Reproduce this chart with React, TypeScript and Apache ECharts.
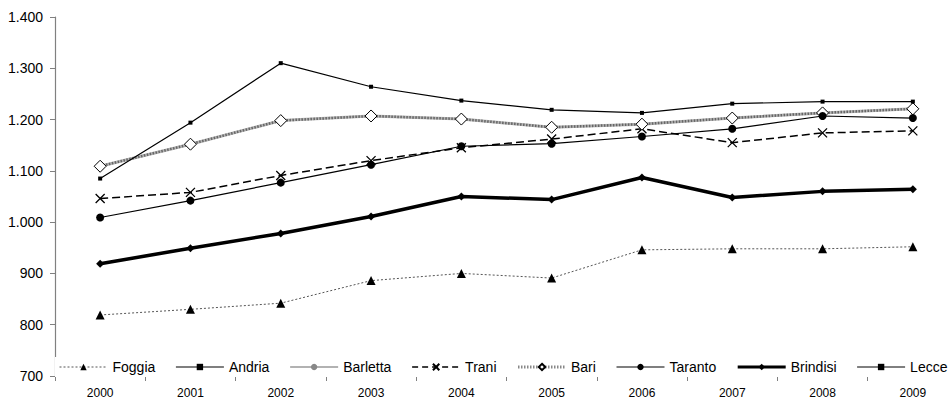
import React, { useEffect, useRef } from "react";
import * as echarts from "echarts";

// Years on the category axis
const years = ["2000", "2001", "2002", "2003", "2004", "2005", "2006", "2007", "2008", "2009"];

// Values per province
const foggia = [819, 830, 842, 886, 900, 891, 946, 948, 948, 952];
const andria = [1109, 1152, 1198, 1207, 1201, 1185, 1191, 1203, 1213, 1221];
const barletta = [1109, 1152, 1198, 1207, 1201, 1185, 1191, 1203, 1213, 1221];
const trani = [1046, 1058, 1091, 1120, 1145, 1162, 1182, 1155, 1174, 1178];
const bari = [1109, 1152, 1198, 1207, 1201, 1185, 1191, 1203, 1213, 1221];
const taranto = [1009, 1042, 1077, 1112, 1148, 1153, 1167, 1182, 1207, 1203];
const brindisi = [919, 949, 978, 1011, 1050, 1044, 1087, 1048, 1060, 1064];
const lecce = [1085, 1194, 1310, 1264, 1237, 1219, 1213, 1231, 1235, 1235];

// Y axis range
const yMin = 700;
const yMax = 1400;
const yStep = 100;

const FONT = "'Liberation Sans', Arial, sans-serif";
const CROSS = "path://M0,0L10,10M10,0L0,10";

function formatThousands(v: number): string {
  if (v < 1000) return String(v);
  const th = Math.floor(v / 1000);
  const rest = String(v % 1000).padStart(3, "0");
  return th + "." + rest;
}

export default function App() {
  const ref = useRef<HTMLDivElement>(null);

  useEffect(() => {
    if (!ref.current) return;
    const chart = echarts.init(ref.current, undefined, { renderer: "svg" });

    const option: any = {
      animation: false,
      backgroundColor: "#ffffff",
      // the plot runs slightly past the visible right edge
      grid: { left: 55, right: 4, top: 17, bottom: 24, containLabel: false },
      legend: {
        left: 55,
        top: 357,
        width: 890,
        orient: "horizontal",
        backgroundColor: "#ffffff",
        padding: [3, 2, 3, 4],
        itemWidth: 48,
        itemHeight: 8,
        itemGap: 20,
        textStyle: { fontFamily: FONT, fontSize: 14, color: "#000" },
        data: [
          { name: "Foggia", lineStyle: { width: 1, color: "#555", type: [2, 2] } },
          { name: "Andria", lineStyle: { width: 1.2, color: "#000" } },
          { name: "Barletta", lineStyle: { width: 1.5, color: "#999" } },
          { name: "Trani", lineStyle: { width: 1.5, color: "#000", type: [6, 4] } },
          { name: "Bari", lineStyle: { width: 3, color: "#888", type: [1.5, 1.5] } },
          { name: "Taranto", lineStyle: { width: 1.2, color: "#000" } },
          { name: "Brindisi", lineStyle: { width: 3, color: "#000" } },
          { name: "Lecce", lineStyle: { width: 1, color: "#000" } },
        ],
      },
      xAxis: {
        type: "category",
        data: years,
        boundaryGap: true,
        axisLine: { show: true, lineStyle: { color: "#808080", width: 1 } },
        axisTick: { show: true, length: 5, lineStyle: { color: "#808080" } },
        axisLabel: { fontFamily: FONT, fontSize: 12, color: "#000", margin: 11 },
        splitLine: { show: false },
      },
      yAxis: {
        type: "value",
        min: yMin,
        max: yMax,
        interval: yStep,
        axisLine: { show: true, lineStyle: { color: "#808080", width: 1.2 } },
        axisTick: { show: true, inside: false, length: 5, lineStyle: { color: "#808080" } },
        axisLabel: {
          fontFamily: FONT,
          fontSize: 14,
          color: "#000",
          margin: 12,
          formatter: (v: number) => formatThousands(v),
        },
        splitLine: { show: false },
      },
      series: [
        {
          name: "Foggia",
          type: "line",
          data: foggia,
          symbol: "triangle",
          symbolSize: 9,
          itemStyle: { color: "#000" },
          lineStyle: { color: "#555", width: 1, type: [2, 2] },
        },
        {
          name: "Andria",
          type: "line",
          data: andria,
          symbol: "rect",
          symbolSize: 6,
          itemStyle: { color: "#000" },
          lineStyle: { color: "#000", width: 1.5 },
        },
        {
          name: "Barletta",
          type: "line",
          data: barletta,
          symbol: "circle",
          symbolSize: 6,
          itemStyle: { color: "#888" },
          lineStyle: { color: "#b5b5b5", width: 3 },
        },
        {
          name: "Trani",
          type: "line",
          data: trani,
          symbol: CROSS,
          symbolSize: 9,
          itemStyle: { color: "#000", borderColor: "#000", borderWidth: 1.3 },
          lineStyle: { color: "#000", width: 1.5, type: [8, 4] },
        },
        {
          name: "Bari",
          type: "line",
          data: bari,
          symbol: "diamond",
          symbolSize: 12,
          itemStyle: { color: "#fff", borderColor: "#000", borderWidth: 1 },
          lineStyle: { color: "#666", width: 2.5, type: [1.5, 1.5] },
        },
        {
          name: "Taranto",
          type: "line",
          data: taranto,
          symbol: "circle",
          symbolSize: 8,
          itemStyle: { color: "#000" },
          lineStyle: { color: "#000", width: 1.2 },
        },
        {
          name: "Brindisi",
          type: "line",
          data: brindisi,
          symbol: "diamond",
          symbolSize: 8,
          itemStyle: { color: "#000" },
          lineStyle: { color: "#000", width: 3.5 },
        },
        {
          name: "Lecce",
          type: "line",
          data: lecce,
          symbol: "rect",
          symbolSize: 4,
          itemStyle: { color: "#000" },
          lineStyle: { color: "#000", width: 1.2 },
        },
      ],
    };

    chart.setOption(option);
    return () => chart.dispose();
  }, []);

  return (
    <div
      style={{
        position: "fixed",
        left: 0,
        top: 0,
        width: 949,
        height: 400,
        overflow: "hidden",
        background: "#fff",
      }}
    >
      <div ref={ref} style={{ width: 962, height: 400 }} />
    </div>
  );
}
